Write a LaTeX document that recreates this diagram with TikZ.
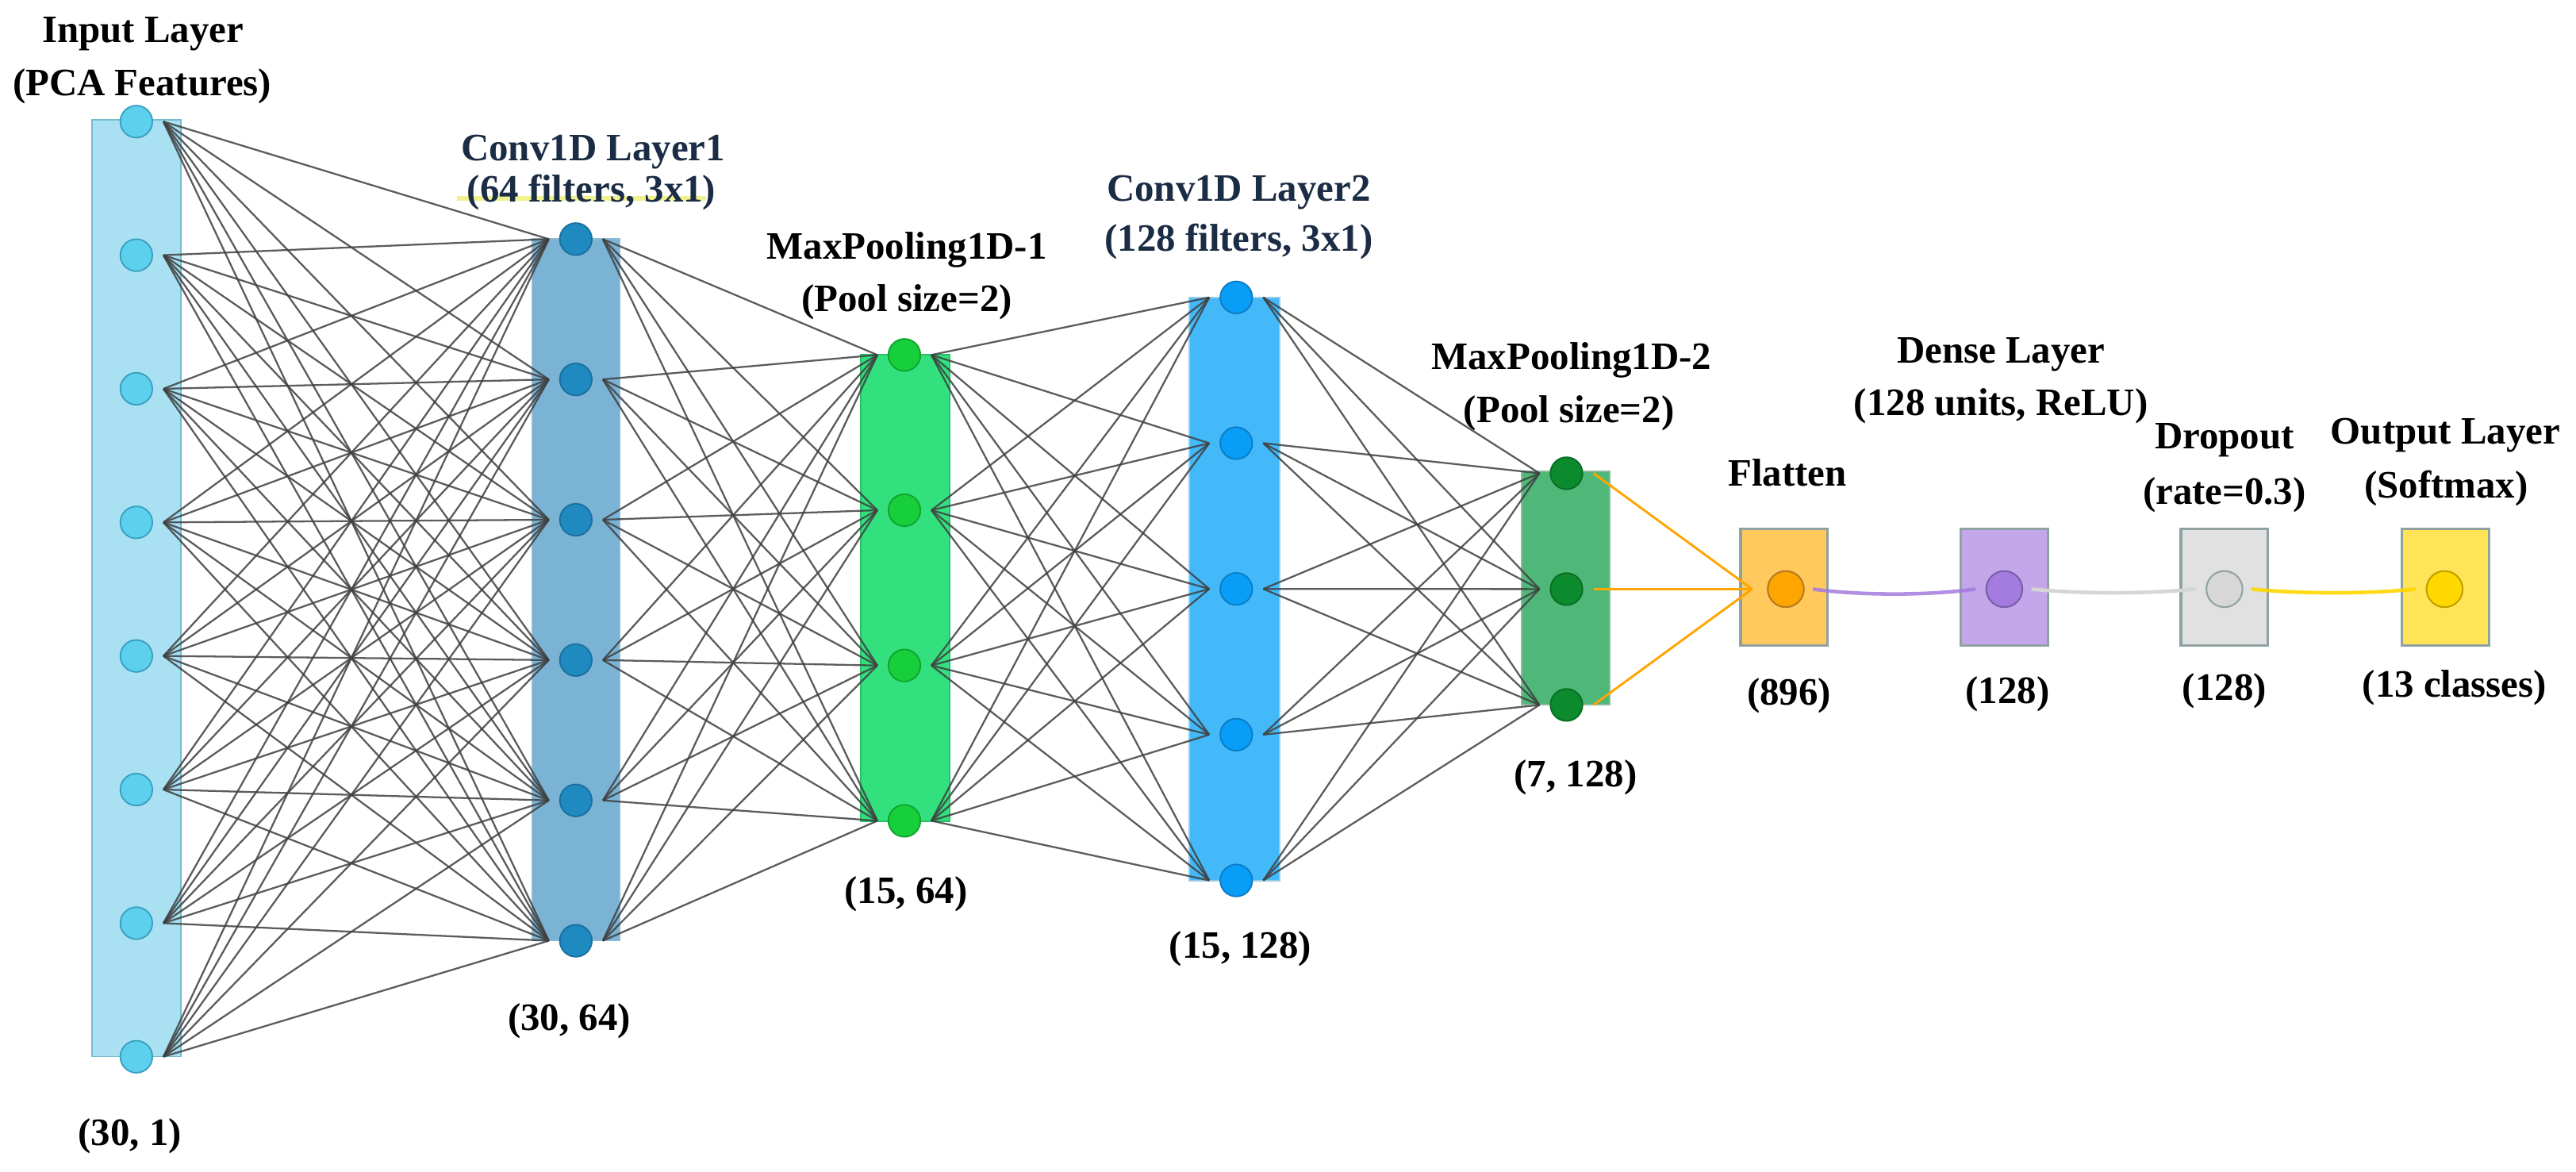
\documentclass[tikz,border=0pt]{standalone}
\usepackage{fontspec}
\setmainfont{Liberation Serif}
\usetikzlibrary{calc}
\pgfdeclarelayer{back}
\pgfdeclarelayer{mid}
\pgfsetlayers{back,mid,main}
\definecolor{inputfill}{HTML}{A9E1F3}
\definecolor{inputdraw}{HTML}{74BCD0}
\definecolor{inputneu}{HTML}{5DD0EE}
\definecolor{inputneudraw}{HTML}{3A9FC0}
\definecolor{convafill}{HTML}{7BB3D5}
\definecolor{convadraw}{HTML}{8DBBD8}
\definecolor{convaneu}{HTML}{1F8AC0}
\definecolor{convaneudraw}{HTML}{1A70A0}
\definecolor{mpafill}{HTML}{33E07E}
\definecolor{mpadraw}{HTML}{2BBF6A}
\definecolor{mpaneu}{HTML}{16CF3A}
\definecolor{mpaneudraw}{HTML}{11A52E}
\definecolor{convbfill}{HTML}{44B9FA}
\definecolor{convbdraw}{HTML}{9CCBE6}
\definecolor{convbneu}{HTML}{089DF6}
\definecolor{convbneudraw}{HTML}{0A7CC8}
\definecolor{mpbfill}{HTML}{4FB777}
\definecolor{mpbdraw}{HTML}{8DBA9C}
\definecolor{mpbneu}{HTML}{0B8B2D}
\definecolor{mpbneudraw}{HTML}{076E22}
\definecolor{flatfill}{HTML}{FFC95E}
\definecolor{flatneu}{HTML}{FFA500}
\definecolor{flatneudraw}{HTML}{B87A1E}
\definecolor{densefill}{HTML}{C3A7EA}
\definecolor{denseneu}{HTML}{A47BDE}
\definecolor{denseneudraw}{HTML}{7B5FA8}
\definecolor{dropfill}{HTML}{E1E1E1}
\definecolor{dropneu}{HTML}{D7D7D7}
\definecolor{dropneudraw}{HTML}{8FA3A3}
\definecolor{outfill}{HTML}{FFE458}
\definecolor{outneu}{HTML}{FFD800}
\definecolor{outneudraw}{HTML}{BFA000}
\definecolor{boxdraw}{HTML}{8FA1A1}
\definecolor{linegray}{HTML}{404040}
\definecolor{navytext}{HTML}{1B2C45}
\definecolor{hlyellow}{HTML}{EEF07C}
\definecolor{orangeline}{HTML}{FFA500}
\definecolor{purpleline}{HTML}{A47BDE}
\definecolor{grayline}{HTML}{D5D5D5}
\definecolor{yellowline}{HTML}{FFD700}
\begin{document}
\begin{tikzpicture}[x=1pt,y=-1pt,
  lbl/.style={font=\fontsize{23.6}{28}\selectfont\bfseries, anchor=base, inner sep=0pt, text=black},
  navy/.style={text=navytext},
  conn/.style={draw=linegray, line width=1.1pt, opacity=0.85},
  neu/.style={circle, minimum size=19.5pt, inner sep=0pt, line width=0.9pt},
  bigneu/.style={circle, minimum size=22pt, inner sep=0pt, line width=1pt},
  layerrect/.style={rectangle, inner sep=0pt, line width=0.9pt},
  boxrect/.style={rectangle, inner sep=0pt, draw=boxdraw, line width=1.6pt, minimum width=53pt, minimum height=71pt}
]
\useasboundingbox (0,0) rectangle (1568,713);

% layer rectangles
\begin{pgfonlayer}{back}
\fill[white] (0,0) rectangle (1568,713);
\node[layerrect, fill=inputfill, draw=inputdraw, minimum width=54pt, minimum height=570pt] (R1) at (83,358) {};
\node[layerrect, fill=convafill, draw=convadraw, minimum width=53pt, minimum height=427pt] (R2) at (350.5,359) {};
\node[layerrect, fill=mpafill, draw=mpadraw, minimum width=54pt, minimum height=284pt] (R3) at (551,357.8) {};
\node[layerrect, fill=convbfill, draw=convbdraw, minimum width=55pt, minimum height=355pt] (R4) at (751.5,358.5) {};
\node[layerrect, fill=mpbfill, draw=mpbdraw, minimum width=54pt, minimum height=142pt] (R5) at (953,358) {};
\node[boxrect, fill=flatfill] (BF) at (1086,357.5) {};
\node[boxrect, fill=densefill] (BD) at (1220,357.5) {};
\node[boxrect, fill=dropfill] (BO) at (1354,357.5) {};
\node[boxrect, fill=outfill] (BY) at (1488.5,357.5) {};
\fill[hlyellow, opacity=0.85] (278,119.3) rectangle (430,122.3);
\end{pgfonlayer}

% neurons
\foreach \i in {1,...,8}
  \node[neu, fill=inputneu, draw=inputneudraw] (A\i) at (83,{74+(\i-1)*81.3}) {};
\foreach \i in {1,...,6}
  \node[neu, fill=convaneu, draw=convaneudraw] (B\i) at (350.5,{145.5+(\i-1)*85.4}) {};
\foreach \i in {1,...,4}
  \node[neu, fill=mpaneu, draw=mpaneudraw] (C\i) at (550.5,{216+(\i-1)*94.5}) {};
\foreach \i in {1,...,5}
  \node[neu, fill=convbneu, draw=convbneudraw] (D\i) at (752.5,{181+(\i-1)*88.7}) {};
\foreach \i in {1,...,3}
  \node[neu, fill=mpbneu, draw=mpbneudraw] (E\i) at (953.5,{288+(\i-1)*70.5}) {};
\node[bigneu, fill=flatneu, draw=flatneudraw] (F) at (1087,358.5) {};
\node[bigneu, fill=denseneu, draw=denseneudraw] (G) at (1220,358.5) {};
\node[bigneu, fill=dropneu, draw=dropneudraw] (H) at (1354,358.5) {};
\node[bigneu, fill=outneu, draw=outneudraw] (K) at (1488,358.5) {};

% connections
\begin{pgfonlayer}{mid}
\foreach \i in {1,...,8}
  \foreach \j in {1,...,6}
    \draw[conn] ([xshift=6.25pt]A\i.east) -- ([xshift=-6.25pt]B\j.west);
\foreach \i in {1,...,6}
  \foreach \j in {1,...,4}
    \draw[conn] ([xshift=6.25pt]B\i.east) -- ([xshift=-6.25pt]C\j.west);
\foreach \i in {1,...,4}
  \foreach \j in {1,...,5}
    \draw[conn] ([xshift=6.25pt]C\i.east) -- ([xshift=-6.25pt]D\j.west);
\foreach \i in {1,...,5}
  \foreach \j in {1,...,3}
    \draw[conn] ([xshift=6.25pt]D\i.east) -- ([xshift=-6.25pt]E\j.west);
\foreach \i in {1,...,3}
  \draw[orangeline, line width=1.4pt] ([xshift=6.25pt]E\i.east) -- ([xshift=-9pt]F.west);
\draw[purpleline, line width=2.2pt, opacity=0.85] ([xshift=5pt]F.east) .. controls +(30,4) and +(-30,4) .. ([xshift=-6pt]G.west);
\draw[grayline, line width=2.2pt] ([xshift=5pt]G.east) .. controls +(30,3) and +(-30,3) .. ([xshift=-6pt]H.west);
\draw[yellowline, line width=2.2pt, opacity=0.9] ([xshift=5pt]H.east) .. controls +(30,3) and +(-30,3) .. ([xshift=-6pt]K.west);
\end{pgfonlayer}

% labels
\node[lbl] (t1a) at (87,25.8) {Input Layer};
\node[lbl] (t1b) at (86.5,58) {(PCA Features)};
\node[lbl] (t1c) at (79,697) {(30, 1)};
\node[lbl, navy] (t2a) at (361,98) {Conv1D Layer1};
\node[lbl, navy] (t2b) at (360,123) {(64 filters, 3x1)};
\node[lbl] (t2c) at (346.5,627) {(30, 64)};
\node[lbl] (t3a) at (552,157.5) {MaxPooling1D-1};
\node[lbl] (t3b) at (552,189.5) {(Pool size=2)};
\node[lbl] (t3c) at (551.5,550) {(15, 64)};
\node[lbl, navy] (t4a) at (754,122.3) {Conv1D Layer2};
\node[lbl, navy] (t4b) at (754,153) {(128 filters, 3x1)};
\node[lbl] (t4c) at (755,583) {(15, 128)};
\node[lbl] (t5a) at (956.5,225) {MaxPooling1D-2};
\node[lbl] (t5b) at (955,257) {(Pool size=2)};
\node[lbl] (t5c) at (959,478.6) {(7, 128)};
\node[lbl] (t6a) at (1088,296) {Flatten};
\node[lbl] (t6c) at (1089,429) {(896)};
\node[lbl] (t7a) at (1218,221) {Dense Layer};
\node[lbl] (t7b) at (1218,253) {(128 units, ReLU)};
\node[lbl] (t7c) at (1222,428) {(128)};
\node[lbl] (t8a) at (1354,273) {Dropout};
\node[lbl] (t8b) at (1354,307) {(rate=0.3)};
\node[lbl] (t8c) at (1354,426) {(128)};
\node[lbl] (t9a) at (1488.5,270) {Output Layer};
\node[lbl] (t9b) at (1489,303) {(Softmax)};
\node[lbl] (t9c) at (1494,424) {(13 classes)};
\end{tikzpicture}
\end{document}
